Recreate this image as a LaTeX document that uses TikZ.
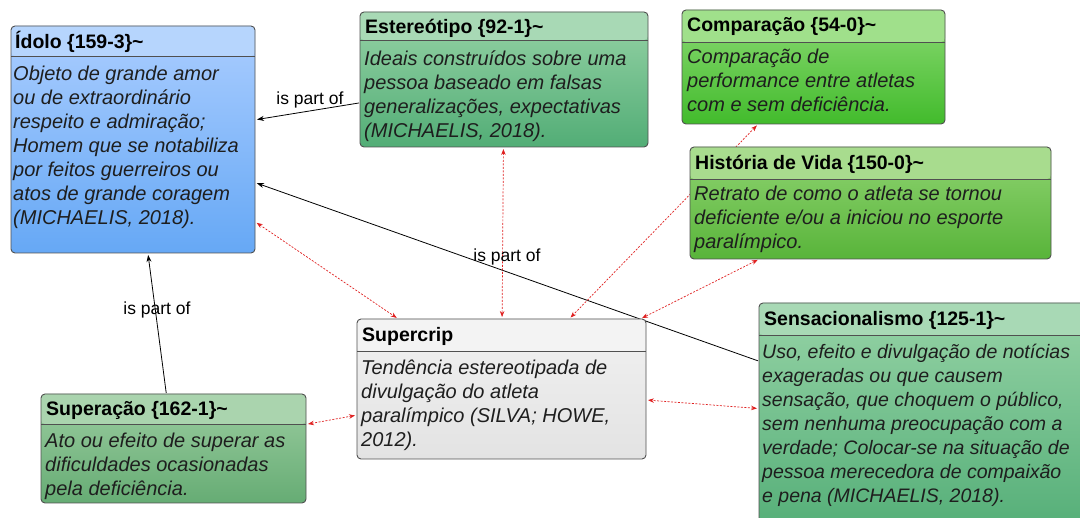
\documentclass[tikz,border=0pt]{standalone}
\usepackage{fontspec}
\setmainfont{Liberation Sans}
\usetikzlibrary{arrows.meta}
\pgfdeclarelayer{background}
\pgfsetlayers{background,main}
\definecolor{bordercol}{HTML}{505050}
\definecolor{bodytext}{HTML}{1E1E1E}
\definecolor{assocred}{HTML}{E02020}
\definecolor{blueH}{HTML}{B6D5FD}
\definecolor{blueT}{HTML}{AACDFF}
\definecolor{blueB}{HTML}{66A8F5}
\definecolor{seaH}{HTML}{A8D9B5}
\definecolor{seaT}{HTML}{96D3A6}
\definecolor{seaB}{HTML}{52AD76}
\definecolor{limeH}{HTML}{A0E08B}
\definecolor{limeT}{HTML}{8CDA74}
\definecolor{limeB}{HTML}{42BB2C}
\definecolor{histH}{HTML}{A8DC8E}
\definecolor{histT}{HTML}{90D472}
\definecolor{histB}{HTML}{58B43A}
\definecolor{supH}{HTML}{AAD4AE}
\definecolor{supT}{HTML}{9BCDA0}
\definecolor{supB}{HTML}{66AC74}
\definecolor{grayH}{HTML}{F3F3F3}
\definecolor{grayT}{HTML}{F1F1F1}
\definecolor{grayB}{HTML}{E3E3E3}
\tikzset{
  cb/.style={draw=bordercol, line width=0.9pt, rounded corners=4pt, rectangle, inner sep=0pt, outer sep=0pt, anchor=north west},
  ttl/.style={font=\fontsize{19.5}{23}\selectfont\bfseries, inner sep=0pt, anchor=base west, text=black},
  bdy/.style={font=\fontsize{20}{24}\selectfont\itshape, inner sep=0pt, anchor=north west, align=left, text=bodytext},
  partof/.style={draw=black, line width=0.8pt, shorten >=2pt, shorten <=1pt, -{Stealth[length=7pt,width=5pt]}},
  assoc/.style={draw=assocred, line width=0.7pt, dash pattern=on 2pt off 1.5pt, shorten >=2pt, shorten <=2pt, {Stealth[length=6pt,width=4.5pt]}-{Stealth[length=6pt,width=4.5pt]}},
  lbl/.style={font=\fontsize{17.5}{20}\selectfont, inner sep=0pt, text=black}
}
% name, x1, y1, x2, y2, separator y, header colour, body top colour, body bottom colour
\newcommand\conceptbox[9]{%
  \node[cb, minimum width={(#4-#2)*1pt}, minimum height={(#5-#3)*1pt},
    top color=#8, bottom color=#9,
    path picture={
      \fill[#7] (path picture bounding box.north west) rectangle ([yshift={-(#6-#3)*1pt}]path picture bounding box.north east);
      \draw[bordercol, line width=0.9pt] ([yshift={-(#6-#3)*1pt}]path picture bounding box.north west) -- ([yshift={-(#6-#3)*1pt}]path picture bounding box.north east);
    }] (#1) at (#2,#3) {};}
\newcommand\ctitle[4]{\node[ttl] (#1) at (#2,#3) {#4};}
\newcommand\cbody[4]{\node[bdy] (#1) at (#2,{#3-16.8}) {\strut #4};}
\begin{document}
\begin{tikzpicture}[x=1pt,y=-1pt]
\useasboundingbox (0,0) rectangle (1080,518);
\clip (0,0) rectangle (1080,518);
\begin{pgfonlayer}{background}
\fill[white] (0,0) rectangle (1080,518);
\end{pgfonlayer}

\conceptbox{idolo}{11}{26}{255}{253}{56}{blueH}{blueT}{blueB}
\conceptbox{ester}{360}{12}{648}{147}{40}{seaH}{seaT}{seaB}
\conceptbox{comp}{682}{10}{945}{124}{42}{limeH}{limeT}{limeB}
\conceptbox{hist}{690}{147}{1051}{259}{179}{histH}{histT}{histB}
\conceptbox{supercrip}{357}{319}{646}{459}{351}{grayH}{grayT}{grayB}
\conceptbox{sens}{759}{303}{1100}{540}{335}{seaH}{seaT}{seaB}
\conceptbox{super}{41}{394}{306}{503}{424}{supH}{supT}{supB}

% connectors (under the boxes)
\begin{pgfonlayer}{background}
\draw[partof] (ester) -- (idolo);
\draw[partof] (sens) -- (idolo);
\draw[partof] (super) -- (idolo);
\draw[assoc] (idolo) -- (supercrip);
\draw[assoc] (ester) -- (supercrip);
\draw[assoc] (comp) -- (supercrip);
\draw[assoc] (hist) -- (supercrip);
\draw[assoc] (sens) -- (supercrip);
\draw[assoc] (super) -- (supercrip);
\end{pgfonlayer}

% texts
\ctitle{idoloT}{15}{49}{Ídolo \{159-3\}\textasciitilde}
\cbody{idoloB}{13}{80}{Objeto de grande amor\\ou de extraordinário\\respeito e admiração;\\Homem que se notabiliza\\por feitos guerreiros ou\\atos de grande coragem\\(MICHAELIS, 2018).}

\ctitle{esterT}{365}{34}{Estereótipo \{92-1\}\textasciitilde}
\cbody{esterB}{364}{65}{Ideais construídos sobre uma\\pessoa baseado em falsas\\generalizações, expectativas\\(MICHAELIS, 2018).}

\ctitle{compT}{687}{32}{Comparação \{54-0\}\textasciitilde}
\cbody{compB}{687}{63}{Comparação de\\performance entre atletas\\com e sem deficiência.}

\ctitle{histT}{695}{170}{História de Vida \{150-0\}\textasciitilde}
\cbody{histB}{694}{200}{Retrato de como o atleta se tornou\\deficiente e/ou a iniciou no esporte\\paralímpico.}

\ctitle{supercripT}{362}{342}{Supercrip}
\cbody{supercripB}{361}{374}{Tendência estereotipada de\\divulgação do atleta\\paralímpico (SILVA; HOWE,\\2012).}

\ctitle{sensT}{764}{326}{Sensacionalismo \{125-1\}\textasciitilde}
\node[bdy, font=\fontsize{19.5}{24}\selectfont\itshape] (sensB) at (762,{358-16.8}) {\strut Uso, efeito e divulgação de notícias\\exageradas ou que causem\\sensação, que choquem o público,\\sem nenhuma preocupação com a\\verdade; Colocar-se na situação de\\pessoa merecedora de compaixão\\e pena (MICHAELIS, 2018).};

\ctitle{superT}{46}{416}{Superação \{162-1\}\textasciitilde}
\cbody{superB}{45}{447}{Ato ou efeito de superar as\\dificuldades ocasionadas\\pela deficiência.}

% labels
\node[lbl] (l1) at (310,100) {is part of};
\node[lbl] (l2) at (507,257) {is part of};
\node[lbl] (l3) at (157,310) {is part of};
\end{tikzpicture}
\end{document}
